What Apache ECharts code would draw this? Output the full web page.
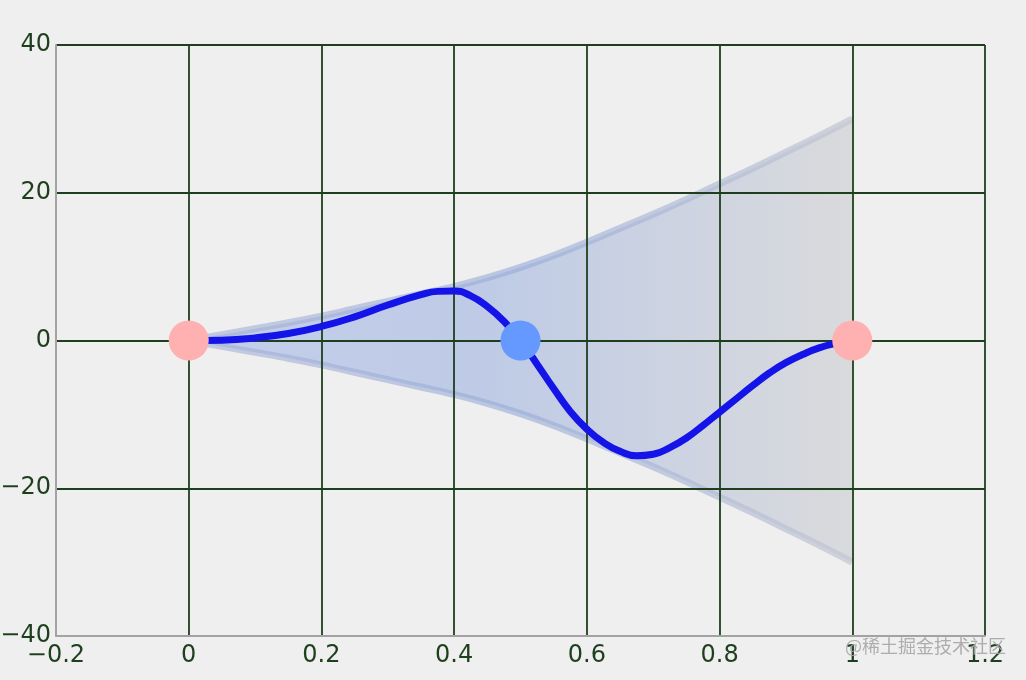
<!DOCTYPE html>
<html>
<head>
<meta charset="utf-8">
<script src="https://cdn.jsdelivr.net/npm/echarts@6/dist/echarts.min.js"></script>
<style>
html,body{margin:0;padding:0;background:#efefef;}
#main{width:1026px;height:680px;}
</style>
</head>
<body>
<div id="main"></div>
<script>
// ---- data ----
var curveX = [0, 0.05, 0.1, 0.15, 0.2, 0.25, 0.3, 0.35, 0.375, 0.4, 0.425, 0.45, 0.475, 0.5, 0.525, 0.55, 0.575, 0.6, 0.625, 0.65, 0.675, 0.7, 0.725, 0.75, 0.775, 0.8, 0.825, 0.85, 0.875, 0.9, 0.925, 0.95, 0.975, 1.0];
var curveValues = [0, 0.05, 0.35, 0.95, 1.9, 3.2, 4.8, 6.2, 6.65, 6.7, 6.05, 4.6, 2.6, 0, -3.2, -6.5, -9.6, -12.0, -13.8, -15.0, -15.6, -15.4, -14.5, -13.2, -11.5, -9.7, -7.9, -6.1, -4.4, -3.0, -1.9, -1.0, -0.4, 0];
var envX = [0, 0.05, 0.1, 0.15, 0.2, 0.25, 0.3, 0.35, 0.4, 0.45, 0.5, 0.55, 0.6, 0.65, 0.7, 0.75, 0.8, 0.85, 0.9, 0.95, 1.0];
var upperValues = [0, 0.8, 1.6, 2.4, 3.3, 4.3, 5.3, 6.3, 7.3, 8.5, 9.9, 11.5, 13.3, 15.2, 17.1, 19.1, 21.2, 23.3, 25.5, 27.7, 30];
var lowerValues = [0, -0.8, -1.6, -2.4, -3.3, -4.3, -5.3, -6.3, -7.3, -8.5, -9.9, -11.5, -13.3, -15.2, -17.1, -19.1, -21.2, -23.3, -25.5, -27.7, -30];
var endPoints = [[0, 0], [1, 0]];
var midPoints = [[0.5, 0]];
var xTicks = { min: -0.2, max: 1.2, interval: 0.2 };
var yTicks = { min: -40, max: 40, interval: 20 };
var watermark = '@稀土掘金技术社区';

function pairs(xs, ys) { return xs.map(function (x, i) { return [x, ys[i]]; }); }
function fmt(v) { return String(+(+v).toFixed(1)).replace('-', '\u2212'); }

var gridGreen = '#1e3f1e';
var fillGrad = new echarts.graphic.LinearGradient(0, 0, 1, 0, [
  { offset: 0, color: '#c3cfea' },
  { offset: 0.45, color: '#bfcbe6' },
  { offset: 1, color: '#d9dadc' }
]);
var edgeGrad = new echarts.graphic.LinearGradient(0, 0, 1, 0, [
  { offset: 0, color: 'rgba(160,172,210,0.55)' },
  { offset: 0.5, color: 'rgba(150,170,215,0.6)' },
  { offset: 1, color: 'rgba(195,198,210,0.7)' }
]);

var chart = echarts.init(document.getElementById('main'), null, { renderer: 'canvas' });
chart.setOption({
  backgroundColor: '#efefef',
  animation: false,
  grid: { left: 56, right: 41, top: 45, bottom: 44, containLabel: false, outerBoundsMode: 'none' },
  xAxis: {
    type: 'value', min: xTicks.min, max: xTicks.max, interval: xTicks.interval, z: 3,
    axisLine: { show: true, onZero: false, lineStyle: { color: '#a3a3a3', width: 2 } },
    axisTick: { show: false },
    splitLine: { show: true, lineStyle: { color: gridGreen, width: 1.8 } },
    axisLabel: { color: gridGreen, fontSize: 24, fontFamily: 'DejaVu Sans', margin: 8, formatter: fmt }
  },
  yAxis: {
    type: 'value', min: yTicks.min, max: yTicks.max, interval: yTicks.interval, z: 3,
    axisLine: { show: true, onZero: false, lineStyle: { color: '#a3a3a3', width: 2 } },
    axisTick: { show: false },
    splitLine: { show: true, lineStyle: { color: gridGreen, width: 1.8 } },
    axisLabel: { color: gridGreen, fontSize: 24, fontFamily: 'DejaVu Sans', margin: 5, formatter: fmt }
  },
  series: [
    {
      type: 'line', data: pairs(envX, upperValues), smooth: 0.3, symbol: 'none', z: 2,
      lineStyle: { color: edgeGrad, width: 7 },
      areaStyle: { color: fillGrad, opacity: 1, origin: 'auto' }
    },
    {
      type: 'line', data: pairs(envX, lowerValues), smooth: 0.3, symbol: 'none', z: 2,
      lineStyle: { color: edgeGrad, width: 7 },
      areaStyle: { color: fillGrad, opacity: 1, origin: 'auto' }
    },
    {
      type: 'line', data: pairs(curveX, curveValues), smooth: 0.5, symbol: 'none', z: 5,
      lineStyle: { color: '#1414e8', width: 7 }
    },
    {
      type: 'scatter', data: endPoints, symbolSize: 40, z: 10,
      itemStyle: { color: '#ffb0b0', opacity: 1 }
    },
    {
      type: 'scatter', data: midPoints, symbolSize: 40, z: 10,
      itemStyle: { color: '#6699ff', opacity: 1 }
    }
  ],
  graphic: [{
    type: 'text', right: 20, top: 637, z: 100,
    style: { text: watermark, fill: 'rgba(165,165,165,0.9)', font: '18px "Noto Sans CJK SC"' }
  }]
});
</script>
</body>
</html>
